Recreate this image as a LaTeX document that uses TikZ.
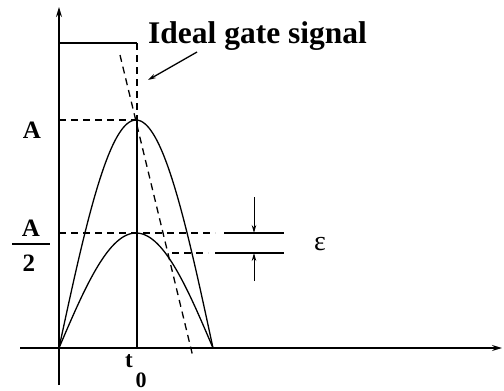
\documentclass[tikz,border=0pt]{standalone}
\usepackage{fontspec}
\setmainfont{Liberation Serif}
\usetikzlibrary{arrows.meta}
\tikzset{
  ln/.style={line width=1.3pt},
  dsh/.style={line width=1.3pt, dash pattern=on 7pt off 5pt},
  axarrow/.style={line width=1.3pt, -{Stealth[length=10pt,width=6pt]}},
  smarrow/.style={line width=1pt, -{Stealth[length=8pt,width=4.5pt]}},
  lbl/.style={inner sep=0pt, font=\bfseries\fontsize{25}{25}\selectfont},
}
\begin{document}
\begin{tikzpicture}[x=1pt,y=-1pt]
\useasboundingbox (0,0) rectangle (504,391);
% coordinates
\coordinate (ybot) at (59,385);
\coordinate (ytop) at (59,7);
\coordinate (xl) at (20,348);
\coordinate (xr) at (502,348);
\coordinate (o) at (59,348);
\coordinate (gtl) at (59,43);
\coordinate (gtr) at (137,43);
\coordinate (pk) at (137,120);
\coordinate (t0) at (137,348);
\coordinate (sl1) at (120,55);
\coordinate (sl2) at (193,357);
\coordinate (aL) at (59,120);
\coordinate (hL) at (59,233);
\coordinate (hM) at (215,233);
\coordinate (hS) at (224,233);
\coordinate (hR) at (284,233);
\coordinate (lL) at (172,253);
\coordinate (lM) at (208,253);
\coordinate (lS) at (215,253);
\coordinate (lR) at (284,253);
\coordinate (ea1) at (254,197);
\coordinate (ea2) at (254,233);
\coordinate (eb1) at (254,281);
\coordinate (eb2) at (254,253);
\coordinate (ga1) at (197,52);
\coordinate (ga2) at (148,80);
% axes
\draw[axarrow] (ybot) -- (ytop);
\draw[axarrow] (xl) -- (xr);
% ideal gate
\draw[ln] (gtl) -- (gtr);
\draw[dsh] (gtr) -- (pk);
\draw[ln] (pk) -- (t0);
% slanted dashed line
\draw[dsh] (sl1) -- (sl2);
% levels
\draw[dsh] (aL) -- (pk);
\draw[dsh] (hL) -- (hM);
\draw[ln] (hS) -- (hR);
\draw[dsh] (lL) -- (lM);
\draw[ln] (lS) -- (lR);
% epsilon arrows
\draw[smarrow] (ea1) -- (ea2);
\draw[smarrow] (eb1) -- (eb2);
% curves
\draw[ln] plot[domain=0:180, samples=80, smooth] ({59+0.85556*\x},{348-228*sin(\x)});
\draw[ln] plot[domain=0:180, samples=80, smooth] ({59+0.85556*\x},{348-115*sin(\x)});
% gate label arrow
\draw[smarrow, line width=1.3pt] (ga1) -- (ga2);
% labels
\node[lbl, anchor=base west, font=\bfseries\fontsize{31.5}{31.5}\selectfont] (title) at (148,43) {Ideal gate signal};
\node[lbl, anchor=base] (lA) at (32,138) {A};
\node[lbl, anchor=base] (lA2) at (31,236) {A};
\draw[line width=1.4pt] (12,244) -- (50,244);
\node[lbl, anchor=base] (l2) at (29,271) {2};
\node[lbl, anchor=base, font=\bfseries\fontsize{23}{23}\selectfont] (lt) at (129,367) {t};
\node[lbl, anchor=base, font=\bfseries\fontsize{22}{22}\selectfont] (l0) at (141,387) {0};
\node[inner sep=0pt, font=\fontsize{28}{28}\selectfont] (leps) at (320,244) {ε};
\end{tikzpicture}
\end{document}
